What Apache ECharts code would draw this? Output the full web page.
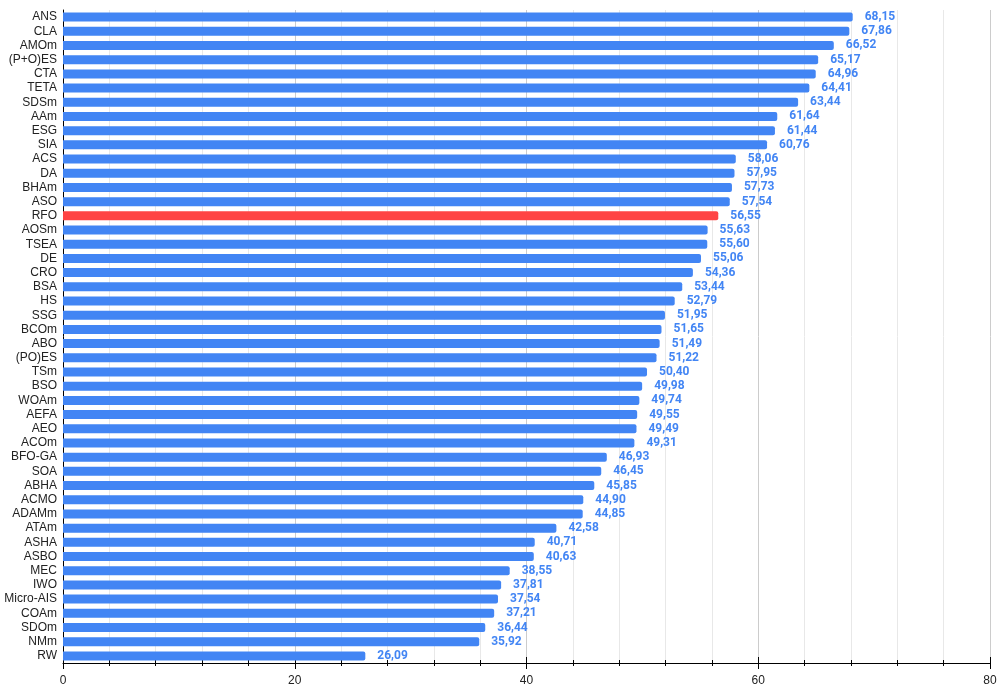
<!DOCTYPE html>
<html>
<head>
<meta charset="utf-8">
<script src="https://cdn.jsdelivr.net/npm/echarts@6/dist/echarts.min.js"></script>
<style>
  html, body { margin: 0; padding: 0; background: #fff; }
  #chart { width: 1000px; height: 692px; }
</style>
</head>
<body>
<div id="chart"></div>
<script>
const algorithms = [
  'ANS', 'CLA', 'AMOm', '(P+O)ES', 'CTA', 'TETA', 'SDSm', 'AAm', 'ESG', 'SIA',
  'ACS', 'DA', 'BHAm', 'ASO', 'RFO', 'AOSm', 'TSEA', 'DE', 'CRO', 'BSA',
  'HS', 'SSG', 'BCOm', 'ABO', '(PO)ES', 'TSm', 'BSO', 'WOAm', 'AEFA', 'AEO',
  'ACOm', 'BFO-GA', 'SOA', 'ABHA', 'ACMO', 'ADAMm', 'ATAm', 'ASHA', 'ASBO', 'MEC',
  'IWO', 'Micro-AIS', 'COAm', 'SDOm', 'NMm', 'RW'
];
const scores = [
  68.15, 67.86, 66.52, 65.17, 64.96, 64.41, 63.44, 61.64, 61.44, 60.76,
  58.06, 57.95, 57.73, 57.54, 56.55, 55.63, 55.60, 55.06, 54.36, 53.44,
  52.79, 51.95, 51.65, 51.49, 51.22, 50.40, 49.98, 49.74, 49.55, 49.49,
  49.31, 46.93, 46.45, 45.85, 44.90, 44.85, 42.58, 40.71, 40.63, 38.55,
  37.81, 37.54, 37.21, 36.44, 35.92, 26.09
];
const highlighted = 'RFO';

const BLUE = '#4285f4';
const RED = '#ff4444';

const chart = echarts.init(document.getElementById('chart'));

const barData = scores.map((v, i) => ({
  value: v,
  itemStyle: { color: algorithms[i] === highlighted ? RED : BLUE },
}));

chart.setOption({
  animation: false,
  grid: { left: 63, right: 10, top: 10, bottom: 29 },
  xAxis: [
    {
      type: 'value',
      min: 0,
      max: 80,
      interval: 20,
      position: 'bottom',
      axisLine: { show: true, lineStyle: { color: '#000', width: 1 } },
      axisTick: { show: true, length: 6, lineStyle: { color: '#000' } },
      minorTick: { show: true, splitNumber: 5, length: 3, lineStyle: { color: '#000' } },
      splitLine: { show: true, lineStyle: { color: '#cccccc' } },
      minorSplitLine: { show: true, lineStyle: { color: '#e8e8e8' } },
      axisLabel: {
        margin: 12,
        color: '#222',
        fontSize: 12,
        fontFamily: 'Liberation Sans, Arial, sans-serif',
      },
    },
    {
      // second copy only for the ticks that go up into the plot
      type: 'value',
      min: 0,
      max: 80,
      interval: 20,
      position: 'bottom',
      axisLine: { show: false },
      axisTick: { show: true, inside: true, length: 6, lineStyle: { color: '#000' } },
      minorTick: { show: true, splitNumber: 5, length: 3, lineStyle: { color: '#000' } },
      splitLine: { show: false },
      axisLabel: { show: false },
    },
  ],
  yAxis: {
    type: 'category',
    data: algorithms,
    inverse: true,
    axisLine: { show: true, lineStyle: { color: '#000' } },
    axisTick: { show: false },
    axisLabel: {
      margin: 6,
      color: '#222',
      fontSize: 12,
      fontFamily: 'Liberation Sans, Arial, sans-serif',
      interval: 0,
    },
  },
  series: [
    {
      type: 'bar',
      xAxisIndex: 0,
      data: barData,
      barWidth: 9,
      itemStyle: { borderRadius: [0, 2, 2, 0] },
      label: {
        show: true,
        position: 'right',
        distance: 12,
        color: BLUE,
        fontWeight: 'bold',
        fontSize: 12,
        fontFamily: 'Roboto, sans-serif',
        formatter: p => p.value.toFixed(2).replace('.', ','),
      },
    },
  ],
});
</script>
</body>
</html>
